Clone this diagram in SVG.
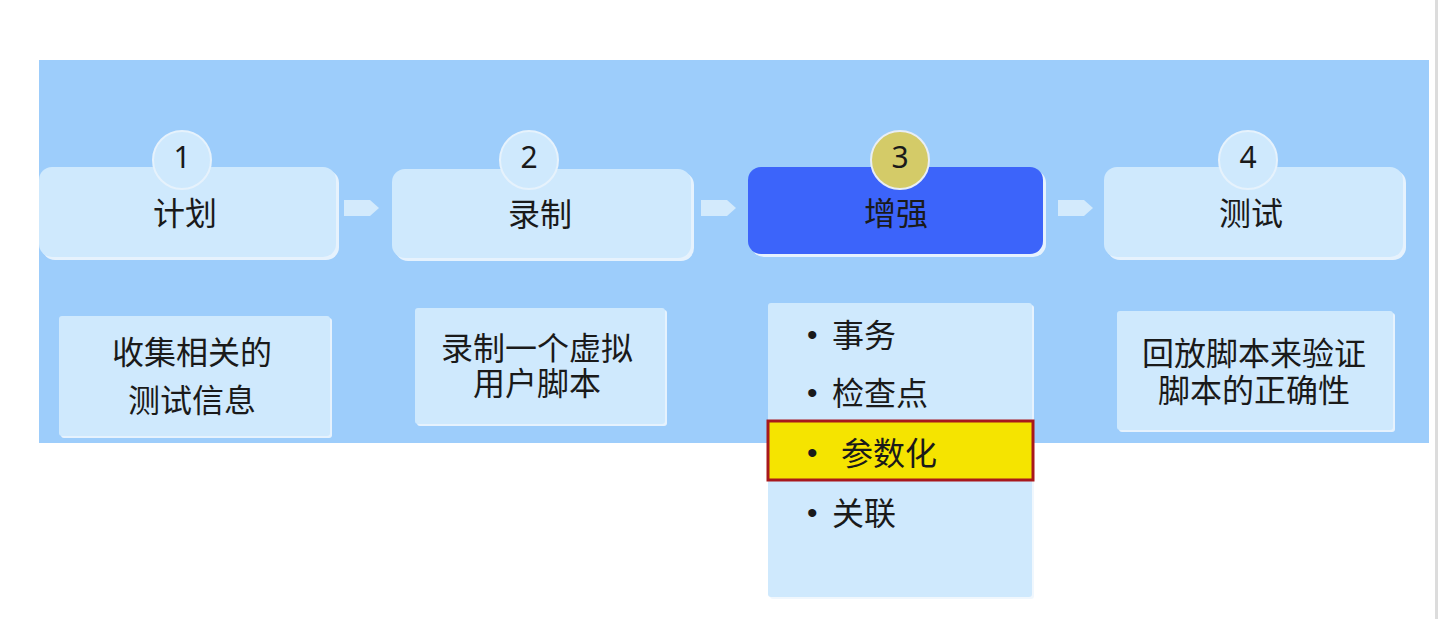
<svg xmlns="http://www.w3.org/2000/svg" width="1440" height="619" viewBox="0 0 1440 619">
<style>
  .t { font-family: "Noto Sans CJK SC", "Noto Sans", sans-serif; fill: #1a1a1a; }
  .lbl { font-size: 32px; text-anchor: middle; }
  .item { font-size: 32px; }
  .bul { font-family: "Liberation Sans", "DejaVu Sans", sans-serif; font-size: 30px; fill: #1a1a1a; }
  .num { font-family: "Noto Sans", "Liberation Sans", sans-serif; font-size: 30px; fill: #1a1a1a; text-anchor: middle; }
  .box { fill: #cfe9fd; }
  .shadow { fill: #eef6fd; opacity: 0.9; }
  .circ { fill: #cfe9fd; stroke: #e6f2fc; stroke-width: 2; }
  .arrow { fill: #d3eafc; }
</style>
<rect x="0" y="0" width="1440" height="619" fill="#ffffff"/>
<rect x="1435" y="0" width="3" height="619" fill="#dcdcdc"/>
<g id="panel">
  <rect x="39" y="60" width="1390" height="383" fill="#9dcdfb"/>
</g>
<g id="connectors">
  <polygon class="arrow" points="344,200 370,200 379,208 370,216 344,216"/>
  <polygon class="arrow" points="701,200 727,200 736,208 727,216 701,216"/>
  <polygon class="arrow" points="1058,200 1084,200 1093,208 1084,216 1058,216"/>
</g>
<g id="step1">
  <rect class="shadow" x="42" y="170" width="297" height="90" rx="13"/>
  <rect class="box" x="39" y="167" width="297" height="90" rx="13"/>
  <circle class="circ" cx="182" cy="160" r="29"/>
  <text class="num" x="182" y="168">1</text>
  <text class="t lbl" x="185" y="225">计划</text>
</g>
<g id="step2">
  <rect class="shadow" x="395" y="172" width="299" height="89" rx="13"/>
  <rect class="box" x="392" y="169" width="299" height="89" rx="13"/>
  <circle class="circ" cx="529" cy="160" r="29"/>
  <text class="num" x="529" y="168">2</text>
  <text class="t lbl" x="540" y="226">录制</text>
</g>
<g id="step3">
  <rect class="shadow" x="751" y="170" width="295" height="87" rx="13"/>
  <rect x="748" y="167" width="295" height="87" rx="13" fill="#3c64fa"/>
  <circle cx="900" cy="160" r="29" fill="#d4cb68" stroke="#e8eef5" stroke-width="2"/>
  <text class="num" x="900" y="168">3</text>
  <text class="t lbl" x="896" y="225">增强</text>
</g>
<g id="step4">
  <rect class="shadow" x="1107" y="170" width="299" height="90" rx="13"/>
  <rect class="box" x="1104" y="167" width="299" height="90" rx="13"/>
  <circle class="circ" cx="1248" cy="160" r="29"/>
  <text class="num" x="1248" y="168">4</text>
  <text class="t lbl" x="1251" y="225">测试</text>
</g>
<g id="desc1">
  <rect class="shadow" x="61" y="318" width="271" height="120" rx="3"/>
  <rect class="box" x="59" y="316" width="271" height="120" rx="3"/>
  <text class="t lbl" x="192" y="364">收集相关的</text>
  <text class="t lbl" x="192" y="412">测试信息</text>
</g>
<g id="desc2">
  <rect class="shadow" x="417" y="310" width="250" height="116" rx="3"/>
  <rect class="box" x="415" y="308" width="250" height="116" rx="3"/>
  <text class="t lbl" x="537" y="360">录制一个虚拟</text>
  <text class="t lbl" x="537" y="395">用户脚本</text>
</g>
<g id="desc3">
  <rect class="shadow" x="770" y="305" width="264" height="294" rx="3"/>
  <rect class="box" x="768" y="303" width="264" height="294" rx="3"/>
  <text class="bul" x="807" y="345">•</text>
  <text class="t item" x="832" y="347">事务</text>
  <text class="bul" x="807" y="403">•</text>
  <text class="t item" x="832" y="405">检查点</text>
  <rect x="768" y="421" width="265" height="59" fill="#f5e400" stroke="#a8181c" stroke-width="3"/>
  <text class="bul" x="807" y="463">•</text>
  <text class="t item" x="841" y="465">参数化</text>
  <text class="bul" x="807" y="523">•</text>
  <text class="t item" x="832" y="525">关联</text>
</g>
<g id="desc4">
  <rect class="shadow" x="1119" y="313" width="276" height="119" rx="3"/>
  <rect class="box" x="1117" y="311" width="276" height="119" rx="3"/>
  <text class="t lbl" x="1254" y="365">回放脚本来验证</text>
  <text class="t lbl" x="1254" y="402">脚本的正确性</text>
</g>
</svg>
